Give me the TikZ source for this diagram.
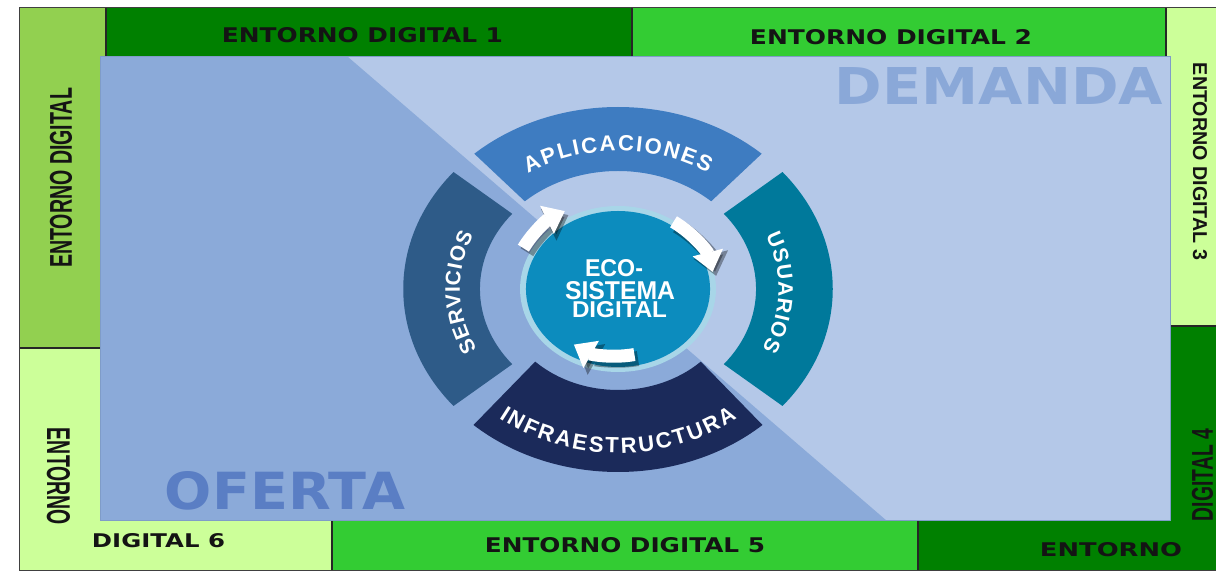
\documentclass[tikz,border=0pt]{standalone}
\usepackage{fontspec}
\setmainfont{DejaVu Sans}
\newfontfamily\arialf{Liberation Sans}
\usetikzlibrary{arrows.meta,decorations.text,calc}
\definecolor{lgreen}{HTML}{CCFF99}
\definecolor{mgreen}{HTML}{92D050}
\definecolor{dgreen}{HTML}{008000}
\definecolor{bgreen}{HTML}{33CC33}
\definecolor{lightbg}{HTML}{B4C8E8}
\definecolor{darkbg}{HTML}{8BAAD9}
\definecolor{rectline}{HTML}{7F9CC8}
\definecolor{demandc}{HTML}{8AA8D8}
\definecolor{ofertac}{HTML}{5A7EC4}
\definecolor{appc}{HTML}{3E7CC1}
\definecolor{servc}{HTML}{2E5B88}
\definecolor{infrac}{HTML}{1B2A5A}
\definecolor{usuc}{HTML}{00799B}
\definecolor{ringc}{HTML}{A8D6E8}
\definecolor{tealc}{HTML}{0C8CBE}
\definecolor{labelc}{HTML}{141414}
\newcommand{\fitbox}[3]{\resizebox{#1pt}{#2pt}{#3}}
\newcommand{\ringfont}[1]{\arialf\bfseries\fontsize{#1}{#1}\selectfont}
\tikzset{
  lbl/.style={inner sep=0pt, text=labelc, font=\bfseries},
  vlbl/.style={inner sep=0pt, text=labelc, font=\arialf\bfseries},
  sep/.style={draw=black!85, line width=1.3pt},
  ecoarrow/.style={draw=white, line width=13pt, -{Triangle[length=20pt,width=30pt]}},
  ecoshadow/.style={draw=black, line width=15pt, opacity=0.35, -{Triangle[length=22pt,width=34pt]}},
  arctext/.style n args={2}{decorate, decoration={text along path,
      text={|\ringfont{#2}|#1}, text color=white, text align={fit to path}}}
}
\begin{document}
\begin{tikzpicture}[x=1pt,y=1pt]
\useasboundingbox (0,0) rectangle (1216,572);
\fill[white] (0,0) rectangle (1216,572);
% frame boxes
\fill[lgreen] (19,1) rectangle (332,224);
\fill[mgreen] (19,224) rectangle (106,564);
\fill[dgreen] (106,500) rectangle (632,564);
\fill[bgreen] (632,500) rectangle (1166,564);
\fill[lgreen] (1166,246) rectangle (1216,564);
\fill[dgreen] (1166,1) rectangle (1216,246);
\fill[dgreen] (918,1) rectangle (1216,52);
\fill[bgreen] (332,1) rectangle (918,52);
\draw[sep] (106,514) -- (106,564);
\draw[sep] (632,514) -- (632,564);
\draw[sep] (1166,514) -- (1166,564);
\draw[sep] (19,224) -- (100,224);
\draw[sep] (1170,246) -- (1216,246);
\draw[sep] (332,1) -- (332,51);
\draw[sep] (918,1) -- (918,51);
\draw[draw=black!75, line width=1pt] (19,1) rectangle (1216.5,564);
% central panel
\fill[lightbg] (100,51) rectangle (1170,515);
\fill[darkbg] (100,51) -- (100,515) -- (348,515) -- (887,51) -- cycle;
\draw[rectline, line width=1pt] (100,51) rectangle (1170,515);
% frame labels
\node[lbl] (ed1) at (362.5,536.5) {\fitbox{281}{15}{ENTORNO DIGITAL 1}};
\node[lbl] (ed2) at (891,534.5) {\fitbox{282}{15}{ENTORNO DIGITAL 2}};
\node[vlbl, rotate=90] (edl) at (61,394) {\fitbox{180}{22}{ENTORNO DIGITAL}};
\node[vlbl, rotate=-90] (ed3) at (1200,410.5) {\fitbox{197}{14}{ENTORNO DIGITAL 3}};
\node[vlbl, rotate=90] (ed4) at (1202.5,97) {\fitbox{92}{21}{DIGITAL 4}};
\node[lbl] (ed4b) at (1111,22) {\fitbox{142}{14}{ENTORNO}};
\node[lbl] (ed5) at (625,26.5) {\fitbox{280}{15}{ENTORNO DIGITAL 5}};
\node[lbl] (ed6) at (158.5,31) {\fitbox{133}{14}{DIGITAL 6}};
\node[vlbl, rotate=-90] (ed6b) at (58.5,95.5) {\fitbox{97}{23}{ENTORNO}};
\node[lbl, text=demandc] (dem) at (999,485.5) {\fitbox{328}{37}{DEMANDA}};
\node[lbl, text=ofertac] (ofe) at (285,81) {\fitbox{240}{38}{OFERTA}};
% ring
\coordinate (C) at (618,283);
\begin{scope}[shift={(618,283)}, xscale=1.18]
  \fill[appc] (48:182) arc[start angle=48, end angle=132, radius=182] -- (132:118) arc[start angle=132, end angle=48, radius=118] -- cycle;
  \fill[servc] (140:182) arc[start angle=140, end angle=220, radius=182] -- (220:117) arc[start angle=220, end angle=140, radius=117] -- cycle;
  \fill[infrac] (228:183) arc[start angle=228, end angle=312, radius=183] -- (314:101) arc[start angle=314, end angle=226, radius=101] -- cycle;
  \fill[usuc] (-40:182) arc[start angle=-40, end angle=40, radius=182] -- (40:117) arc[start angle=40, end angle=-40, radius=117] -- cycle;
  \fill[ringc] (0,0) circle[radius=83];
  \fill[tealc] (0,0) circle[radius=78];
  % arrow shadows
  \path[ecoshadow] ([shift={(3,-4)}]153:90) arc[start angle=153, end angle=120, radius=90];
  \path[ecoshadow] ([shift={(3,-4)}]55:82) arc[start angle=55, end angle=12, radius=82];
  \path[ecoshadow] ([shift={(3,-4)}]282:67) arc[start angle=282, end angle=236, radius=67];
  % arrows
  \path[ecoarrow] (153:90) arc[start angle=153, end angle=120, radius=90];
  \path[ecoarrow] (55:82) arc[start angle=55, end angle=12, radius=82];
  \path[ecoarrow] (282:67) arc[start angle=282, end angle=236, radius=67];
\end{scope}
% ring texts
\path[arctext={APLICACIONES}{22}] ($(C)+(123:165.2 and 138)$) arc[start angle=123, end angle=57, x radius=165.2, y radius=138];
\path[arctext={INFRAESTRUCTURA}{22}] ($(C)+(232:193.5 and 164)$) arc[start angle=232, end angle=308, x radius=193.5, y radius=164];
\path[arctext={SERVICIOS}{21}] ($(C)+(207:158.1 and 133)$) arc[start angle=207, end angle=156, x radius=158.1, y radius=133];
\path[arctext={USUARIOS}{21}] ($(C)+(23:160.5 and 136)$) arc[start angle=23, end angle=-26, x radius=160.5, y radius=136];
% centre text
\node[inner sep=0pt, text=white, font=\arialf\bfseries] (eco1) at (614,303.5) {\fitbox{58}{17}{ECO-}};
\node[inner sep=0pt, text=white, font=\arialf\bfseries] (eco2) at (620,281) {\fitbox{110}{18}{SISTEMA}};
\node[inner sep=0pt, text=white, font=\arialf\bfseries] (eco3) at (619.5,262) {\fitbox{95}{16}{DIGITAL}};
\end{tikzpicture}
\end{document}
